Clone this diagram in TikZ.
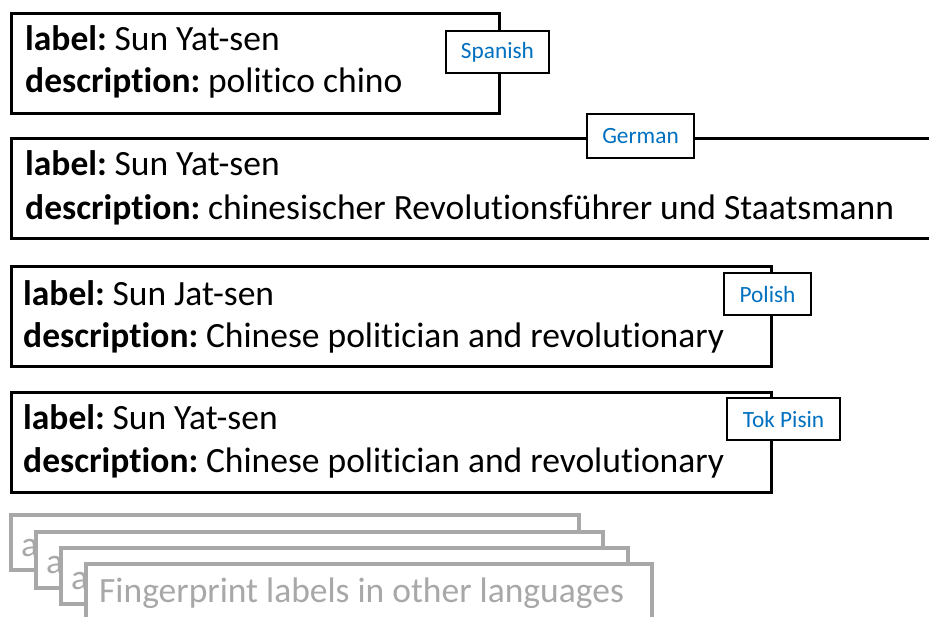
\documentclass[tikz,border=0pt]{standalone}
\usepackage{fontspec}
\setmainfont[Ligatures={NoCommon,NoContextual}]{Carlito}
\definecolor{tagblue}{RGB}{0,112,192}
\definecolor{ghost}{RGB}{168,168,168}
\begin{document}
\begin{tikzpicture}[x=1pt,y=-1pt,
  entry/.style={draw=black,line width=3pt,fill=white,anchor=north west,inner sep=0pt},
  txt/.style={anchor=base west,inner sep=0pt,font=\fontsize{35.5}{42}\selectfont},
  tag/.style={draw=black,line width=1.6pt,fill=white,inner sep=0pt,text=tagblue,font=\fontsize{23.3}{28}\selectfont},
  stack/.style={draw=ghost,line width=4pt,fill=white,anchor=north west,inner sep=0pt},
  gtxt/.style={anchor=base west,inner sep=0pt,text=ghost,font=\fontsize{35.5}{42}\selectfont}]
\useasboundingbox (0,0) rectangle (929,617);
% Spanish
\node[entry,minimum width=488pt,minimum height=100pt] (b1) at (10,12) {};
\node[txt] (l1) at (25,51) {\textbf{label:}\hspace{-3pt} Sun Yat-sen};
\node[txt] (d1) at (25,93) {\textbf{description:}\hspace{-3pt} politico chino};
\node[tag,minimum width=103pt,minimum height=42pt] (t1) at (497.5,52) {Spanish};
% German
\node[entry,minimum width=940pt,minimum height=100pt] (b2) at (10,137) {};
\node[txt] (l2) at (25,176) {\textbf{label:}\hspace{-3pt} Sun Yat-sen};
\node[txt] (d2) at (25,220) {\textbf{description:}\hspace{-3pt} chinesischer Revolutionsführer und Staatsmann};
\node[tag,minimum width=107pt,minimum height=44pt] (t2) at (640.5,136) {German};
% Polish
\node[entry,minimum width=760pt,minimum height=100pt] (b3) at (10,265) {};
\node[txt] (l3) at (23,306) {\textbf{label:}\hspace{-3pt} Sun Jat-sen};
\node[txt] (d3) at (23,348) {\textbf{description:}\hspace{-3pt} Chinese politician and revolutionary};
\node[tag,minimum width=87pt,minimum height=42pt] (t3) at (767.5,294) {Polish};
% Tok Pisin
\node[entry,minimum width=760pt,minimum height=100pt] (b4) at (10,391) {};
\node[txt] (l4) at (23,429) {\textbf{label:}\hspace{-3pt} Sun Yat-sen};
\node[txt] (d4) at (23,472) {\textbf{description:}\hspace{-3pt} Chinese politician and revolutionary};
\node[tag,minimum width=113pt,minimum height=42pt] (t4) at (783.5,419) {Tok Pisin};
% stack
\node[stack,minimum width=568pt,minimum height=55pt] (s1) at (9,513) {};
\node[gtxt] (a1) at (21,556) {a};
\node[stack,minimum width=567pt,minimum height=56pt] (s2) at (34,530) {};
\node[gtxt] (a2) at (46,573) {a};
\node[stack,minimum width=567pt,minimum height=56pt] (s3) at (59,546) {};
\node[gtxt] (a3) at (71,589) {a};
\node[stack,minimum width=566pt,minimum height=60pt] (s4) at (84,562) {};
\node[gtxt] (f) at (99,602) {Fingerprint labels in other languages};
\end{tikzpicture}
\end{document}
